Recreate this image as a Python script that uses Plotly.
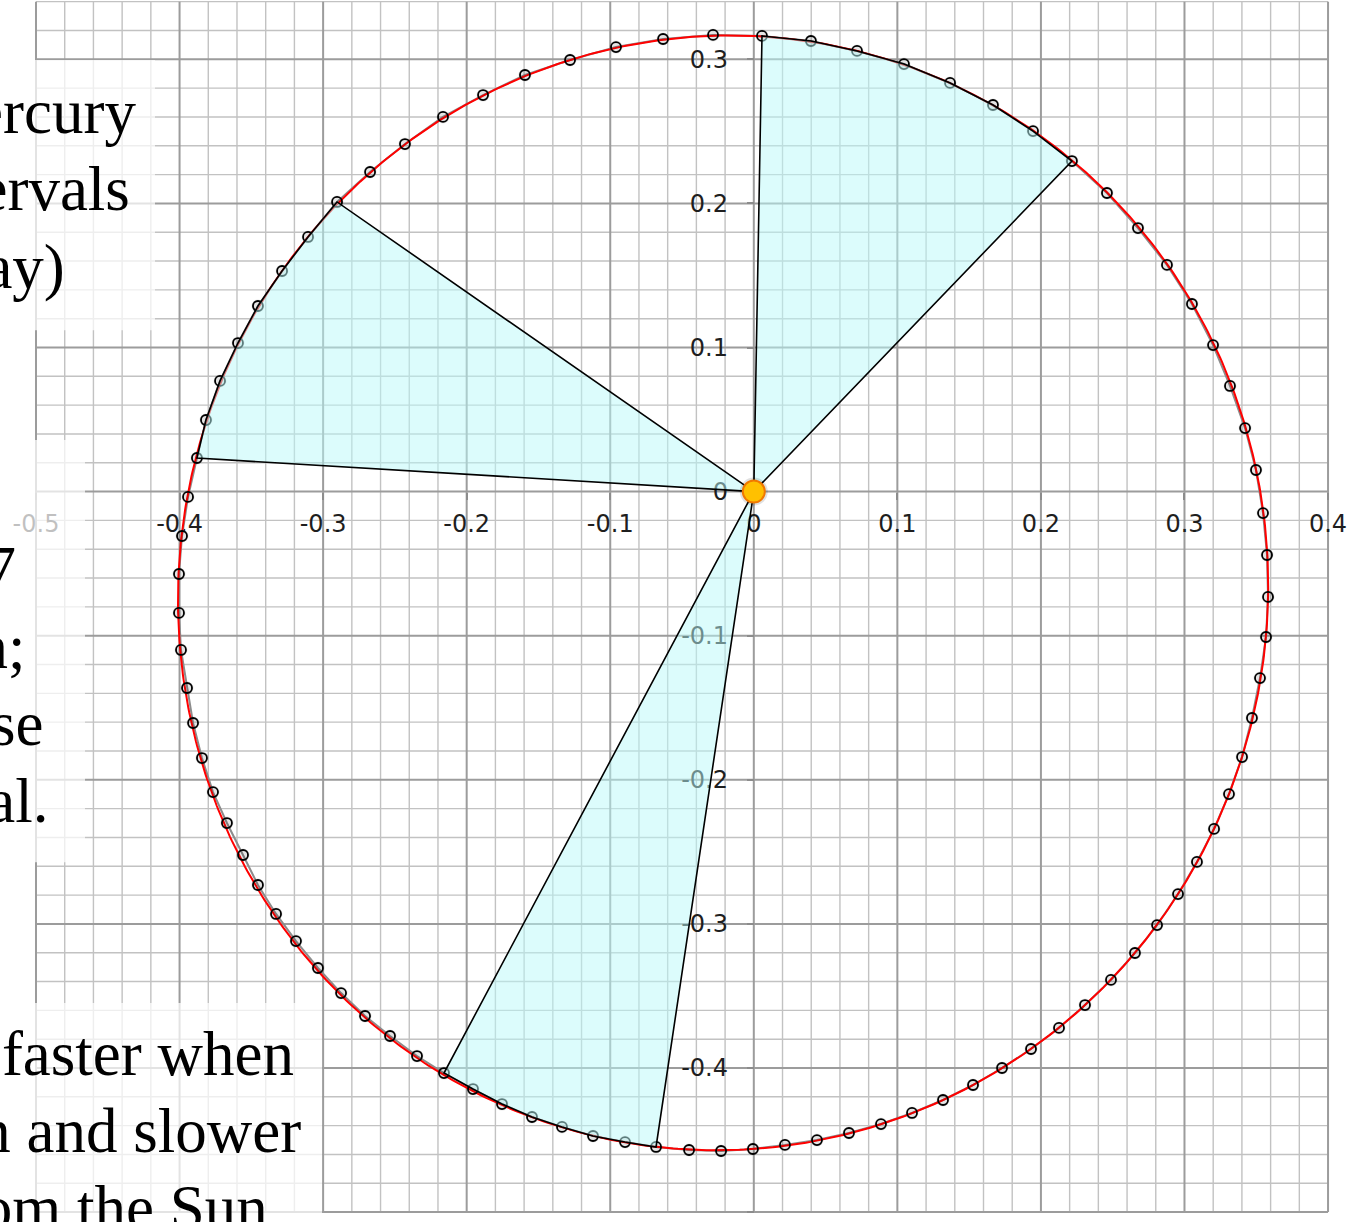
import numpy as np
import plotly.graph_objects as go

# Daily heliocentric positions of Mercury (AU), one point per day around the orbit
orbit_x = [
    0.0057, 0.0398, 0.0719, 0.1046, 0.1367, 0.1666, 0.1945, 0.2216, 0.2460, 0.2676,
    0.2878, 0.3052, 0.3199, 0.3317, 0.3422, 0.3498, 0.3547, 0.3575, 0.3582, 0.3568,
    0.3526, 0.3470, 0.3401, 0.3310, 0.3206, 0.3087, 0.2955, 0.2809, 0.2655, 0.2488,
    0.2307, 0.2126, 0.1931, 0.1729, 0.1527, 0.1318, 0.1102, 0.0886, 0.0663, 0.0440,
    0.0217, -0.0006, -0.0228, -0.0451, -0.0681, -0.0897, -0.1120, -0.1336, -0.1545, -0.1754,
    -0.1956, -0.2158, -0.2346, -0.2534, -0.2708, -0.2875, -0.3036, -0.3189, -0.3328, -0.3454,
    -0.3558, -0.3670, -0.3767, -0.3844, -0.3906, -0.3948, -0.3990, -0.4004, -0.4004, -0.3983,
    -0.3941, -0.3879, -0.3816, -0.3718, -0.3593, -0.3454, -0.3286, -0.3105, -0.2903, -0.2673,
    -0.2430, -0.2165, -0.1886, -0.1594, -0.1280, -0.0960, -0.0632, -0.0284,
]
orbit_y = [
    0.3162, 0.3127, 0.3058, 0.2967, 0.2836, 0.2683, 0.2502, 0.2294, 0.2072, 0.1829,
    0.1573, 0.1302, 0.1017, 0.0733, 0.0441, 0.0150, -0.0149, -0.0440, -0.0731, -0.1009,
    -0.1294, -0.1571, -0.1842, -0.2099, -0.2341, -0.2570, -0.2793, -0.3008, -0.3202, -0.3389,
    -0.3563, -0.3722, -0.3868, -0.4000, -0.4118, -0.4222, -0.4312, -0.4389, -0.4451, -0.4500,
    -0.4534, -0.4562, -0.4576, -0.4569, -0.4548, -0.4514, -0.4472, -0.4409, -0.4340, -0.4250,
    -0.4146, -0.4035, -0.3917, -0.3778, -0.3639, -0.3480, -0.3306, -0.3119, -0.2931, -0.2730,
    -0.2522, -0.2300, -0.2085, -0.1849, -0.1606, -0.1363, -0.1099, -0.0842, -0.0572, -0.0308,
    -0.0037, 0.0233, 0.0497, 0.0768, 0.1031, 0.1288, 0.1531, 0.1767, 0.2010, 0.2218,
    0.2412, 0.2600, 0.2752, 0.2891, 0.2995, 0.3085, 0.3141, 0.3169,
]

# Three 7-day sweeps (first and last day index into the daily positions)
sector_spans = [(0, 7), (44, 51), (71, 78)]

# Fitted Keplerian ellipse (AU, degrees)
ellipse_center = (-0.0214, -0.0703)
ellipse_semi_major = 0.3875
ellipse_semi_minor = 0.3790
ellipse_tilt_deg = 73.1

sun_xy = (0.0, 0.0)

x_tick_vals = [-0.5, -0.4, -0.3, -0.2, -0.1, 0.0, 0.1, 0.2, 0.3, 0.4]
x_tick_text = ["-0.5", "-0.4", "-0.3", "-0.2", "-0.1", "0", "0.1", "0.2", "0.3", "0.4"]
y_tick_vals = [-0.5, -0.4, -0.3, -0.2, -0.1, 0.0, 0.1, 0.2, 0.3]
y_tick_text = ["-0.5", "-0.4", "-0.3", "-0.2", "-0.1", "0", "0.1", "0.2", "0.3"]

W, H = 1360, 1222
X_RANGE = [-0.52508, 0.42226]
Y_RANGE = [-0.50687, 0.34115]
GRID_X = (-0.5, 0.4)
GRID_Y = (-0.5, 0.34)
MINOR_STEP = 0.02

MAJOR_GRID = "#9c9c9c"
MINOR_GRID = "#c2c2c2"
SERIF = "Liberation Serif"


def grid_levels(lo, hi, major):
    """Graph-paper line positions every MINOR_STEP, split into 0.1 and 0.02 lines."""
    n0, n1 = int(round(lo / MINOR_STEP)), int(round(hi / MINOR_STEP))
    ks = [k for k in range(n0, n1 + 1) if (k % 5 == 0) == major]
    return [round(k * MINOR_STEP, 2) for k in ks]


def grid_path(major):
    parts = []
    for gx in grid_levels(*GRID_X, major):
        parts.append(f"M{gx},{GRID_Y[0]} L{gx},{GRID_Y[1]}")
    for gy in grid_levels(*GRID_Y, major):
        parts.append(f"M{GRID_X[0]},{gy} L{GRID_X[1]},{gy}")
    return " ".join(parts)


fig = go.Figure()

# grey polyline joining the daily positions
fig.add_trace(go.Scatter(
    x=orbit_x + orbit_x[:1], y=orbit_y + orbit_y[:1], mode="lines",
    line=dict(color="#8c8c8c", width=2), hoverinfo="skip"))

# red fitted ellipse
t = np.linspace(0, 2 * np.pi, 721)
phi = np.radians(ellipse_tilt_deg)
u = ellipse_semi_major * np.cos(t)
v = ellipse_semi_minor * np.sin(t)
ex = ellipse_center[0] + u * np.cos(phi) - v * np.sin(phi)
ey = ellipse_center[1] + u * np.sin(phi) + v * np.cos(phi)
fig.add_trace(go.Scatter(x=ex, y=ey, mode="lines",
                         line=dict(color="#ff0000", width=2), hoverinfo="skip"))

# soft shadow under the day markers
fig.add_trace(go.Scatter(
    x=orbit_x, y=orbit_y, mode="markers",
    marker=dict(symbol="circle", size=13, color="rgba(0,0,0,0.10)", line=dict(width=0)),
    hoverinfo="skip"))
# day markers
fig.add_trace(go.Scatter(
    x=orbit_x, y=orbit_y, mode="markers",
    marker=dict(symbol="circle-open", size=10, color="black", line=dict(width=1.8)),
    hoverinfo="skip"))

# equal-time sectors swept by the Sun–Mercury line
for i0, i1 in sector_spans:
    sx = [sun_xy[0]] + orbit_x[i0:i1 + 1] + [sun_xy[0]]
    sy = [sun_xy[1]] + orbit_y[i0:i1 + 1] + [sun_xy[1]]
    fig.add_trace(go.Scatter(
        x=sx, y=sy, mode="lines", fill="toself",
        fillcolor="rgba(185,249,249,0.5)",
        line=dict(color="black", width=1.6), hoverinfo="skip"))

# the Sun
fig.add_trace(go.Scatter(
    x=[sun_xy[0]], y=[sun_xy[1]], mode="markers",
    marker=dict(size=28, color="rgba(0,0,0,0.12)", line=dict(width=0)), hoverinfo="skip"))
fig.add_trace(go.Scatter(
    x=[sun_xy[0]], y=[sun_xy[1]], mode="markers",
    marker=dict(size=22, color="#ffc000", line=dict(color="#f07800", width=2)),
    hoverinfo="skip"))

# graph paper: fine 0.02 lines, then heavier 0.1 lines
shapes = [
    dict(type="path", xref="x", yref="y", path=grid_path(False),
         line=dict(color=MINOR_GRID, width=1.4), layer="below"),
    dict(type="path", xref="x", yref="y", path=grid_path(True),
         line=dict(color=MAJOR_GRID, width=2), layer="below"),
]

# translucent caption panels (pixel boxes on the page)
panels = [(0, 60, 155, 318), (0, 440, 85, 850), (0, 1003, 322, 1222)]
for l, t_, r, b in panels:
    shapes.append(dict(type="rect", xref="paper", yref="paper",
                       x0=l / W - 0.01, x1=r / W, y0=1 - b / H - 0.01, y1=1 - t_ / H,
                       fillcolor="rgba(255,255,255,0.72)", line=dict(width=0), layer="above"))

# caption lines: (text, right edge px, baseline px)
caption_lines = [
    ("Positions of Mercury", 136, 133),
    ("at daily intervals", 130, 210),
    ("(one per day)", 65, 288),
    ("Each sector spans 7", 16, 590),
    ("days of motion;", 25, 668),
    ("the areas of these", 44, 745),
    ("sectors are equal.", 49, 822),
    ("Mercury moves faster when", 294, 1075),
    ("close to the Sun and slower", 301, 1152),
    ("when far from the Sun", 268, 1229),
]
FS = 63
annotations = []
for text, right_px, base_px in caption_lines:
    mid = base_px - 0.3375 * FS
    annotations.append(dict(
        text=text, xref="paper", yref="paper", x=right_px / W, y=1 - mid / H,
        xanchor="right", yanchor="middle", showarrow=False, borderpad=0, borderwidth=0,
        font=dict(family=SERIF, size=FS, color="black")))

x_axis_pos = (0 - Y_RANGE[0]) / (Y_RANGE[1] - Y_RANGE[0])
y_axis_pos = (0 - X_RANGE[0]) / (X_RANGE[1] - X_RANGE[0])

tickfont = dict(family="DejaVu Sans", size=24, color="#1e1e1e")
common = dict(
    showgrid=False, zeroline=False, showline=False,
    ticks="outside", ticklen=7, tickwidth=2, tickcolor="#8c8c8c", tickfont=tickfont,
    tickmode="array", layer="below traces", fixedrange=True, anchor="free",
)

fig.update_layout(
    width=W, height=H, margin=dict(l=0, r=0, t=0, b=0),
    paper_bgcolor="white", plot_bgcolor="white", showlegend=False,
    xaxis=dict(range=X_RANGE, tickvals=x_tick_vals, ticktext=x_tick_text,
               position=x_axis_pos, ticklabelstandoff=4, **common),
    yaxis=dict(range=Y_RANGE, tickvals=y_tick_vals, ticktext=y_tick_text,
               position=y_axis_pos, ticklabelstandoff=14, **common),
    shapes=shapes, annotations=annotations,
)

fig.write_html("out.html")
